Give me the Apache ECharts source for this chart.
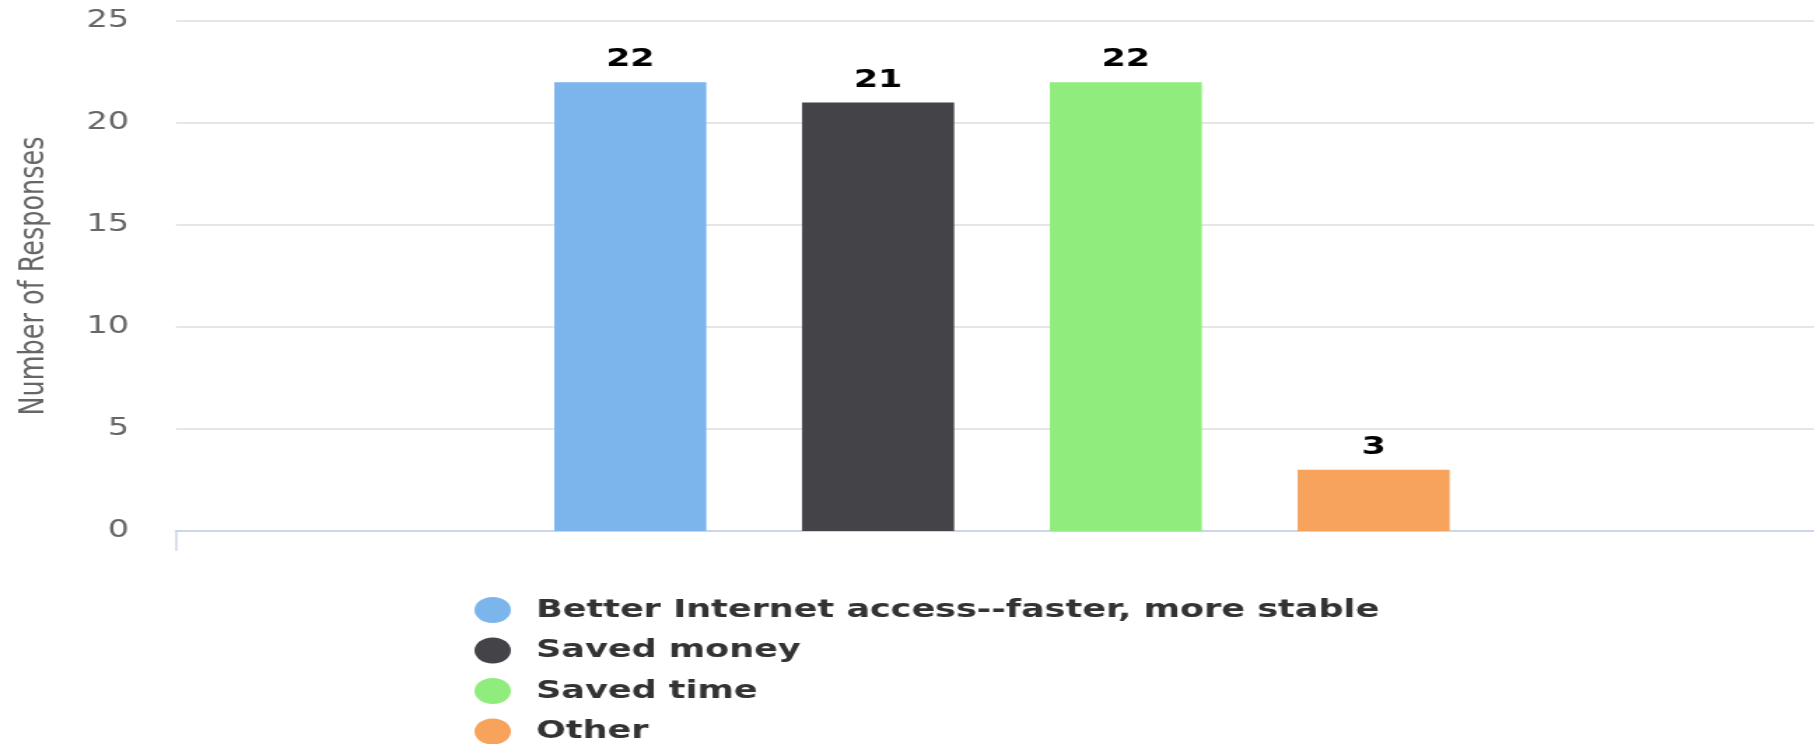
<!DOCTYPE html>
<html>
<head>
<meta charset="utf-8">
<script src="https://cdn.jsdelivr.net/npm/echarts@6/dist/echarts.min.js"></script>
<style>
  html, body { margin: 0; padding: 0; background: #fff; overflow: hidden; }
  #wrap { width: 1814px; height: 744px; overflow: hidden; }
  /* the reference picture is horizontally stretched; draw at 1296px-scale and stretch by 1.4 */
  #chart { width: 1312px; height: 744px; transform: scaleX(1.39969); transform-origin: 0 0; }
</style>
</head>
<body>
<div id="wrap"><div id="chart"></div></div>
<script>
// ---- data ----
const categories = [''];
const seriesNames = [
  'Better Internet access--faster, more stable',
  'Saved money',
  'Saved time',
  'Other'
];
const seriesValues = [22, 21, 22, 3];
const yAxisTitle = 'Number of Responses';
const yMin = 0, yMax = 25, yStep = 5;

// ---- styles ----
const seriesColors = ['#7cb5ec', '#434348', '#90ed7d', '#f7a35c'];

const chart = echarts.init(document.getElementById('chart'), null, { renderer: 'canvas' });

const series = seriesNames.map((name, i) => ({
  name: name,
  type: 'bar',
  data: [seriesValues[i]],
  barWidth: 108.6,
  barGap: '63%',
  itemStyle: { color: seriesColors[i] },
  label: {
    show: true,
    position: 'top',
    distance: 10,
    color: '#000',
    fontFamily: 'DejaVu Sans',
    fontWeight: 'bold',
    fontSize: 25
  },
  emphasis: { disabled: true }
}));

chart.setOption({
  animation: false,
  backgroundColor: '#ffffff',
  grid: { left: 125.7, right: 6, top: 21, bottom: 213, containLabel: false },
  xAxis: {
    type: 'category',
    data: categories,
    axisLine: { show: true, lineStyle: { color: '#ccd6eb', width: 2 } },
    axisTick: { show: true, length: 20, lineStyle: { color: '#ccd6eb', width: 1.5 } },
    axisLabel: { show: false },
    splitLine: { show: false }
  },
  yAxis: {
    type: 'value',
    min: yMin,
    max: yMax,
    interval: yStep,
    name: yAxisTitle,
    nameLocation: 'middle',
    nameGap: 88,
    nameRotate: 90,
    nameTextStyle: {
      fontFamily: 'DejaVu Sans',
      fontSize: 25.5,
      color: '#666666'
    },
    axisLine: { show: false },
    axisTick: { show: false },
    axisLabel: {
      margin: 33.5,
      color: '#666666',
      fontFamily: 'DejaVu Sans',
      fontSize: 24
    },
    splitLine: { show: true, lineStyle: { color: '#e6e6e6', width: 2 } }
  },
  legend: {
    orient: 'vertical',
    left: 339,
    top: 597,
    height: 160,
    padding: 0,
    itemWidth: 26,
    itemHeight: 26,
    itemGap: 14.5,
    icon: 'circle',
    selectedMode: false,
    textStyle: {
      color: '#333333',
      fontFamily: 'DejaVu Sans',
      fontWeight: 'bold',
      fontSize: 25,
      lineHeight: 26,
      padding: [0, 0, 0, 13]
    },
    data: seriesNames
  },
  series: series
});
</script>
</body>
</html>
